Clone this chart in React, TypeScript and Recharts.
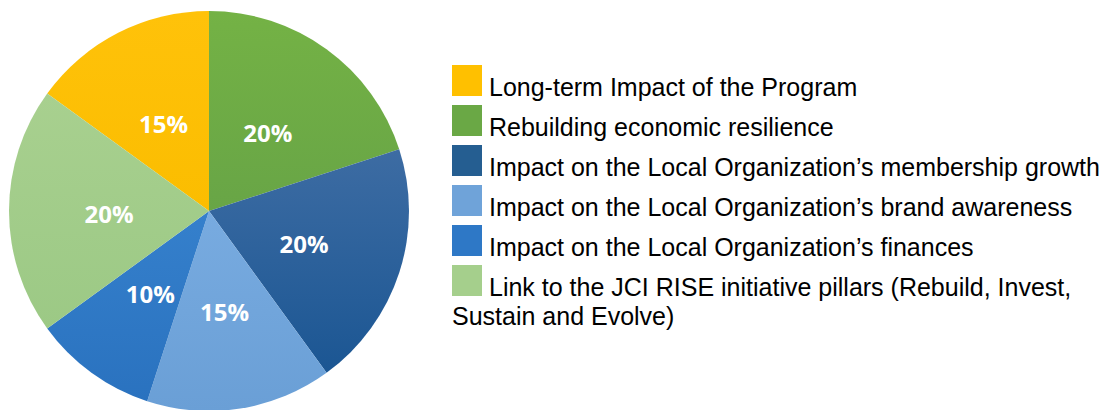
import { Cell, Legend, Pie, PieChart } from 'recharts'

const labels = [
  'Long-term Impact of the Program',
  'Rebuilding economic resilience',
  'Impact on the Local Organization\u2019s membership growth',
  'Impact on the Local Organization\u2019s brand awareness',
  'Impact on the Local Organization\u2019s finances',
  'Link to the JCI RISE initiative pillars (Rebuild, Invest, Sustain and Evolve)',
]
const shares = [15, 20, 20, 15, 10, 20]
// [top, bottom] colours of each slice's soft gradient
const colorsTop = ['#ffc20a', '#74b245', '#3d6ca3', '#78abe0', '#3580cc', '#a8d08f']
const colorsBottom = ['#fbbd00', '#68a546', '#1b5693', '#6a9fd6', '#2a72bf', '#9cc985']
const legendColors = ['#ffc000', '#6aa845', '#255e91', '#6fa3d9', '#2e78c6', '#a5cf8c']

const data = labels.map((name, i) => ({ name, value: shares[i] }))

const RAD = Math.PI / 180

function renderLabel(props: any) {
  const { cx, cy, midAngle, outerRadius, value } = props
  const r = outerRadius * 0.5
  const x = cx + r * Math.cos(-midAngle * RAD)
  const y = cy + r * Math.sin(-midAngle * RAD)
  return (
    <text
      x={x}
      y={y + 2}
      fill="#ffffff"
      textAnchor="middle"
      dominantBaseline="central"
      fontFamily="'Open Sans', sans-serif"
      fontWeight={700}
      fontSize={24}
    >
      {value}%
    </text>
  )
}

function LegendBox() {
  return (
    <div style={{ fontFamily: "'Liberation Sans', Arial, sans-serif", fontSize: 25, color: '#000' }}>
      {labels.map((name, i) => (
        <div
          key={name}
          style={{
            lineHeight: '29px',
            height: i === labels.length - 1 ? 'auto' : 40,
            whiteSpace: i === labels.length - 1 ? 'normal' : 'nowrap',
          }}
        >
          <span
            style={{
              display: 'inline-block',
              width: 30,
              height: 31,
              marginRight: 7,
              verticalAlign: 'baseline',
              backgroundColor: legendColors[i],
            }}
          />
          {name}
        </div>
      ))}
    </div>
  )
}

export default function App() {
  return (
    <PieChart width={1094} height={402} margin={{ top: 0, right: 0, bottom: 0, left: 0 }}>
      <defs>
        {colorsTop.map((c, i) => (
          <linearGradient key={i} id={`g${i}`} x1="0" y1="0" x2="0" y2="1">
            <stop offset="0%" stopColor={c} />
            <stop offset="100%" stopColor={colorsBottom[i]} />
          </linearGradient>
        ))}
      </defs>
      <Pie
        data={data}
        dataKey="value"
        nameKey="name"
        cx={201}
        cy={203}
        outerRadius={200}
        startAngle={144}
        endAngle={-216}
        stroke="none"
        label={renderLabel}
        labelLine={false}
        isAnimationActive={false}
      >
        {data.map((d, i) => (
          <Cell key={d.name} fill={`url(#g${i})`} />
        ))}
      </Pie>
      <Legend
        content={() => <LegendBox />}
        wrapperStyle={{ position: 'absolute', left: 444, top: 57, width: 655 }}
      />
    </PieChart>
  )
}
